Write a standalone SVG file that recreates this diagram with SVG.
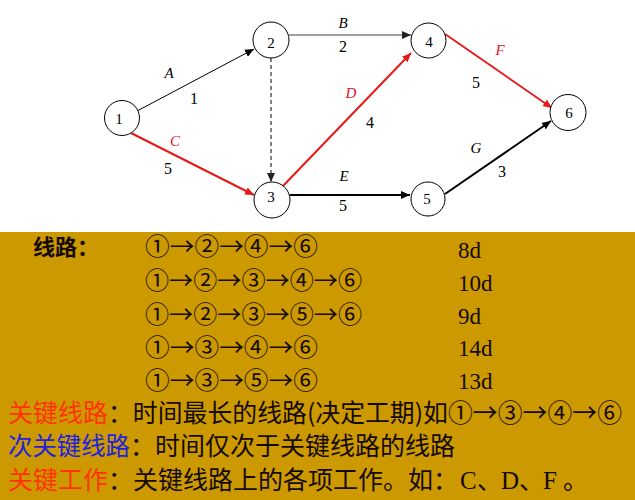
<svg xmlns="http://www.w3.org/2000/svg" width="635" height="500" viewBox="0 0 635 500">
<style>
.node circle{fill:#fff;stroke:#000;stroke-width:1}
.nl{font-family:"Liberation Serif",serif;font-size:15px;fill:#000;text-anchor:middle}
.el{font-family:"Liberation Serif",serif;font-size:15px;font-style:italic;fill:#000;text-anchor:middle}
.en{font-family:"Liberation Serif",serif;font-size:16px;fill:#000;text-anchor:middle}
.red{fill:#E0102A}
.cjk{font-family:"Noto Sans CJK SC","Liberation Serif",sans-serif;font-size:25px;fill:#140a00}
.rows{font-family:"Noto Sans CJK SC","DejaVu Sans",sans-serif;font-size:24px;fill:#140a00}
.days{font-family:"Liberation Serif",serif;font-size:23px;fill:#140a00}
.ser{font-family:"Liberation Serif",serif;font-size:25px;fill:#140a00}
.key{fill:#FF3300}
.sub{fill:#2222DD}
</style>
<defs>
<marker id="ab" markerUnits="userSpaceOnUse" markerWidth="10" markerHeight="8" refX="9" refY="4" orient="auto"><path d="M0,0 L9,4 L0,8 z" fill="#000"/></marker>
<marker id="ag" markerUnits="userSpaceOnUse" markerWidth="10" markerHeight="8" refX="9" refY="4" orient="auto"><path d="M0,0 L9,4 L0,8 z" fill="#222"/></marker>
<marker id="ar" markerUnits="userSpaceOnUse" markerWidth="10" markerHeight="8" refX="9" refY="4" orient="auto"><path d="M0,0 L9,4 L0,8 z" fill="#E81818"/></marker>
</defs>
<rect x="0" y="0" width="635" height="232" fill="#fff"/>
<rect x="0" y="232" width="635" height="268" fill="#CC9900"/>
<g id="connectors" fill="none">
<line x1="138" y1="110.5" x2="254" y2="49" stroke="#000" stroke-width="1" marker-end="url(#ab)"/>
<line x1="289" y1="35" x2="411" y2="35" stroke="#444" stroke-width="1.2" marker-end="url(#ag)"/>
<line x1="131" y1="133" x2="254" y2="195" stroke="#E81818" stroke-width="2" marker-end="url(#ar)"/>
<line x1="271" y1="58" x2="271" y2="182" stroke="#555" stroke-width="1.5" stroke-dasharray="4,3" marker-end="url(#ag)"/>
<line x1="282" y1="187" x2="411" y2="53" stroke="#E81818" stroke-width="2" marker-end="url(#ar)"/>
<line x1="290" y1="195" x2="410" y2="195" stroke="#000" stroke-width="2" marker-end="url(#ab)"/>
<line x1="445" y1="34" x2="552" y2="108" stroke="#E81818" stroke-width="1.8" marker-end="url(#ar)"/>
<line x1="445" y1="194" x2="551" y2="121" stroke="#000" stroke-width="2" marker-end="url(#ab)"/>
<text class="el" x="169" y="78">A</text><text class="en" x="194" y="104">1</text>
<text class="el" x="343" y="28">B</text><text class="en" x="343" y="52">2</text>
<text class="el red" x="175" y="146">C</text><text class="en" x="168" y="174">5</text>
<text class="el red" x="351" y="98">D</text><text class="en" x="370" y="128">4</text>
<text class="el" x="344" y="181">E</text><text class="en" x="343" y="211">5</text>
<text class="el red" x="500" y="55">F</text><text class="en" x="476" y="88">5</text>
<text class="el" x="476" y="153">G</text><text class="en" x="502" y="177">3</text>
</g>
<g id="n1" class="node"><circle cx="122" cy="118" r="17.5"/><text class="nl" x="119" y="124">1</text></g>
<g id="n2" class="node"><circle cx="271" cy="40" r="18"/><text class="nl" x="271" y="48">2</text></g>
<g id="n3" class="node"><circle cx="272" cy="200" r="18"/><text class="nl" x="271" y="202">3</text></g>
<g id="n4" class="node"><circle cx="428.5" cy="40.5" r="17.5"/><text class="nl" x="429" y="47">4</text></g>
<g id="n5" class="node"><circle cx="428" cy="199" r="17"/><text class="nl" x="427" y="204">5</text></g>
<g id="n6" class="node"><circle cx="568" cy="112.5" r="18"/><text class="nl" x="569" y="118">6</text></g>
<g id="routes">
<text class="cjk" x="33" y="255" style="font-size:22px;font-weight:bold">线路：</text>
<text class="rows" x="145" y="255" textLength="173" lengthAdjust="spacingAndGlyphs">①→②→④→⑥</text>
<text class="rows" x="145" y="289" textLength="217" lengthAdjust="spacingAndGlyphs">①→②→③→④→⑥</text>
<text class="rows" x="145" y="323" textLength="217" lengthAdjust="spacingAndGlyphs">①→②→③→⑤→⑥</text>
<text class="rows" x="145" y="356" textLength="173" lengthAdjust="spacingAndGlyphs">①→③→④→⑥</text>
<text class="rows" x="145" y="389" textLength="173" lengthAdjust="spacingAndGlyphs">①→③→⑤→⑥</text>
<text class="days" x="458" y="258">8d</text>
<text class="days" x="458" y="291">10d</text>
<text class="days" x="458" y="324">9d</text>
<text class="days" x="458" y="356">14d</text>
<text class="days" x="458" y="389">13d</text>
</g>
<g id="notes">
<text class="cjk key" x="8" y="422">关键线路</text>
<text class="cjk" x="108" y="422" textLength="514" lengthAdjust="spacingAndGlyphs">：时间最长的线路(决定工期)如①→③→④→⑥</text>
<text class="cjk sub" x="8" y="455" textLength="122" lengthAdjust="spacingAndGlyphs">次关键线路</text>
<text class="cjk" x="130" y="455" textLength="325" lengthAdjust="spacingAndGlyphs">：时间仅次于关键线路的线路</text>
<text class="cjk key" x="8" y="489">关键工作</text>
<text class="cjk" x="108" y="489">：关键线路上的各项工作。如：</text>
<text class="ser" x="460" y="489">C</text>
<text class="cjk" x="477" y="489">、</text>
<text class="ser" x="501" y="489">D</text>
<text class="cjk" x="519" y="489">、</text>
<text class="ser" x="543" y="489">F</text>
<text class="cjk" x="563" y="489">。</text>
</g>
</svg>
